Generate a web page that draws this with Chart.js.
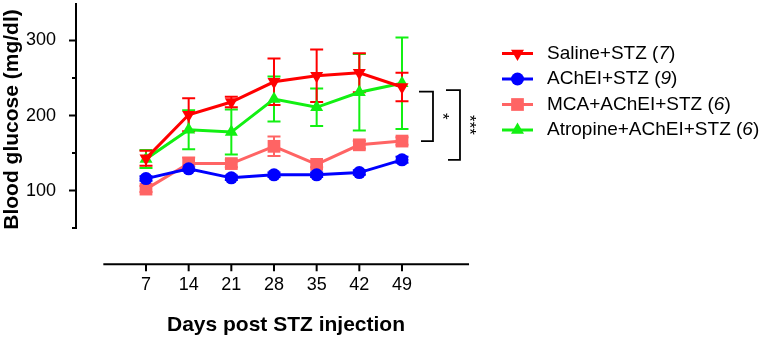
<!DOCTYPE html>
<html>
<head>
<meta charset="utf-8">
<title>Blood glucose after STZ</title>
<script src="https://cdn.jsdelivr.net/npm/chart.js@4.4.1/dist/chart.umd.min.js"></script>
<style>
  html, body { margin: 0; padding: 0; background: #fff; }
  #chart { display: block; }
</style>
</head>
<body>
<canvas id="chart" width="765" height="340"></canvas>
<script>
"use strict";

// days post injection
const days = [7, 14, 21, 28, 35, 42, 49];

const seriesNames = ["Saline+STZ", "AChEI+STZ", "MCA+AChEI+STZ", "Atropine+AChEI+STZ"];
const seriesN = ["7", "9", "6", "6"];

// mean +/- SEM, mg/dl
const salineMean = [143, 201, 218, 245, 253, 257, 238];
const salineErr = [10, 22, 7, 31, 35, 26, 19];
const acheiMean = [116, 129, 117, 121, 121, 124, 141];
const acheiErr = [3, 3, 3, 3, 3, 3, 4];
const mcaMean = [102, 136, 136, 159, 135, 161, 166];
const mcaErr = [4, 8, 5, 13, 4, 5, 5];
const atropineMean = [142, 181, 178, 222, 211, 231, 243];
const atropineErr = [12, 26, 30, 30, 25, 51, 61];

const yTicks = [50, 100, 150, 200, 250, 300];
const yLabelled = [100, 200, 300];

// significance brackets at day 49 (top, bottom in mg/dl)
const bracketTop = [232, 234];
const bracketBottom = [166, 141];
const bracketLabels = ["*", "***"];

const FONT = "Arial, 'Liberation Sans', sans-serif";
Chart.defaults.font.family = FONT;
Chart.defaults.color = "#000";

function makeSet(label, means, color, style, radius, rotation) {
  return {
    label: label,
    data: days.map((d, i) => ({ x: d, y: means[i] })),
    borderColor: color,
    backgroundColor: color,
    pointBackgroundColor: color,
    pointBorderColor: color,
    pointBorderWidth: 0,
    pointStyle: style,
    pointRotation: rotation || 0,
    pointRadius: radius,
    pointHoverRadius: radius,
    borderWidth: 3,
    tension: 0,
    clip: false,
  };
}

const errs = [salineErr, acheiErr, mcaErr, atropineErr];
const means = [salineMean, acheiMean, mcaMean, atropineMean];

const errorBars = {
  id: "errorBars",
  beforeDatasetsDraw(chart) {
    const ctx = chart.ctx;
    const xs = chart.scales.x;
    const ys = chart.scales.y;
    ctx.save();
    for (let i = chart.data.datasets.length - 1; i >= 0; i--) {
      const ds = chart.data.datasets[i];
      ctx.strokeStyle = ds.borderColor;
      ctx.lineWidth = 2;
      days.forEach((d, j) => {
        const x = xs.getPixelForValue(d);
        const yTop = ys.getPixelForValue(means[i][j] + errs[i][j]);
        const yBot = ys.getPixelForValue(means[i][j] - errs[i][j]);
        ctx.beginPath();
        ctx.moveTo(x, yTop);
        ctx.lineTo(x, yBot);
        ctx.moveTo(x - 6.5, yTop);
        ctx.lineTo(x + 6.5, yTop);
        ctx.moveTo(x - 6.5, yBot);
        ctx.lineTo(x + 6.5, yBot);
        ctx.stroke();
      });
    }
    ctx.restore();
  },
};

// Prism-style detached axes
const X_LINE_FROM = 0;
const X_LINE_TO = 60;
const X_AXIS_AT = 2;
const Y_LINE_FROM = 50;
const Y_LINE_TO = 350;

const axesLines = {
  id: "axesLines",
  afterDraw(chart) {
    const ctx = chart.ctx;
    const xs = chart.scales.x;
    const ys = chart.scales.y;
    const left = chart.chartArea.left - 1;
    const xAxisY = ys.getPixelForValue(X_AXIS_AT);
    ctx.save();
    ctx.strokeStyle = "#000";
    ctx.lineWidth = 2;
    ctx.beginPath();
    ctx.moveTo(left, ys.getPixelForValue(Y_LINE_TO));
    ctx.lineTo(left, ys.getPixelForValue(Y_LINE_FROM) + 1);
    yTicks.forEach((v) => {
      const y = ys.getPixelForValue(v);
      const len = yLabelled.includes(v) ? 7 : 4;
      ctx.moveTo(left - len, y);
      ctx.lineTo(left, y);
    });
    ctx.moveTo(xs.getPixelForValue(X_LINE_FROM), xAxisY);
    ctx.lineTo(xs.getPixelForValue(X_LINE_TO), xAxisY);
    days.forEach((d) => {
      const x = xs.getPixelForValue(d);
      ctx.moveTo(x, xAxisY);
      ctx.lineTo(x, xAxisY + 7);
    });
    ctx.stroke();

    // brackets
    const x49 = xs.getPixelForValue(days[days.length - 1]);
    const offsets = [31, 58];
    ctx.lineWidth = 1.8;
    bracketTop.forEach((top, i) => {
      const bx = x49 + offsets[i];
      const yT = ys.getPixelForValue(top);
      const yB = ys.getPixelForValue(bracketBottom[i]);
      ctx.beginPath();
      ctx.moveTo(bx - 14, yT);
      ctx.lineTo(bx, yT);
      ctx.lineTo(bx, yB);
      ctx.lineTo(bx - 12, yB);
      ctx.stroke();
      ctx.save();
      ctx.translate(bx + 9, (yT + yB) / 2);
      ctx.rotate(Math.PI / 2);
      ctx.fillStyle = "#000";
      ctx.font = "17px " + FONT;
      ctx.textAlign = "center";
      ctx.textBaseline = "middle";
      ctx.fillText(bracketLabels[i], 0, 0);
      ctx.restore();
    });
    ctx.restore();
  },
};

const sideLegend = {
  id: "sideLegend",
  afterDraw(chart) {
    const ctx = chart.ctx;
    const x0 = chart.chartArea.right + 7;
    const rowY = 53.5;
    const rowGap = 25.5;
    ctx.save();
    chart.data.datasets.forEach((ds, i) => {
      const y = rowY + i * rowGap;
      ctx.strokeStyle = ds.borderColor;
      ctx.fillStyle = ds.borderColor;
      ctx.lineWidth = 3;
      ctx.beginPath();
      ctx.moveTo(x0, y);
      ctx.lineTo(x0 + 31, y);
      ctx.stroke();
      Chart.helpers.drawPoint(ctx, {
        pointStyle: ds.pointStyle,
        rotation: ds.pointRotation,
        radius: ds.pointRadius,
        borderWidth: 0,
      }, x0 + 15.5, y);

      ctx.fillStyle = "#000";
      ctx.textBaseline = "middle";
      ctx.textAlign = "left";
      let tx = x0 + 45;
      ctx.font = "19px " + FONT;
      const head = seriesNames[i] + " (";
      ctx.fillText(head, tx, y);
      tx += ctx.measureText(head).width;
      ctx.font = "italic 19px " + FONT;
      ctx.fillText(seriesN[i], tx, y);
      tx += ctx.measureText(seriesN[i]).width;
      ctx.font = "19px " + FONT;
      ctx.fillText(")", tx, y);
    });
    ctx.restore();
  },
};

const chart = new Chart(document.getElementById("chart"), {
  type: "line",
  data: {
    datasets: [
      makeSet(seriesNames[0], salineMean, "#ff0000", "triangle", 7.5, 180),
      makeSet(seriesNames[1], acheiMean, "#0000ff", "circle", 6.5),
      makeSet(seriesNames[2], mcaMean, "#ff6464", "rect", 9),
      makeSet(seriesNames[3], atropineMean, "#12f012", "triangle", 7.5),
    ],
  },
  options: {
    responsive: false,
    animation: false,
    devicePixelRatio: 1,
    layout: {
      autoPadding: false,
      padding: { top: 3, left: 0, right: 270, bottom: 2 },
    },
    plugins: {
      legend: { display: false },
      tooltip: { enabled: false },
    },
    scales: {
      x: {
        type: "linear",
        min: -4.32,
        max: 64.26,
        grid: { display: false },
        border: { display: false },
        ticks: { font: { size: 18 }, padding: 30, maxRotation: 0 },
        afterBuildTicks(scale) {
          scale.ticks = days.map((d) => ({ value: d }));
        },
        afterFit(scale) {
          scale.height = 102;
          scale.paddingLeft = 0;
          scale.paddingRight = 0;
        },
        title: {
          display: true,
          text: "Days post STZ injection",
          font: { size: 21, weight: "bold" },
          padding: 0,
        },
      },
      y: {
        min: 39.5,
        max: 350,
        grid: { display: false },
        border: { display: false },
        ticks: {
          font: { size: 18, lineHeight: 0.25 },
          padding: 13,
          callback: (v) => (yLabelled.includes(v) ? String(v) : ""),
        },
        afterBuildTicks(scale) {
          scale.ticks = yTicks.map((v) => ({ value: v }));
        },
        afterFit(scale) {
          scale.width = 77;
          scale.paddingTop = 0;
          scale.paddingBottom = 0;
        },
        title: {
          display: true,
          text: "Blood glucose (mg/dl)",
          font: { size: 21, weight: "bold" },
          padding: 0,
        },
      },
    },
  },
  plugins: [errorBars, axesLines, sideLegend],
});
</script>
</body>
</html>
